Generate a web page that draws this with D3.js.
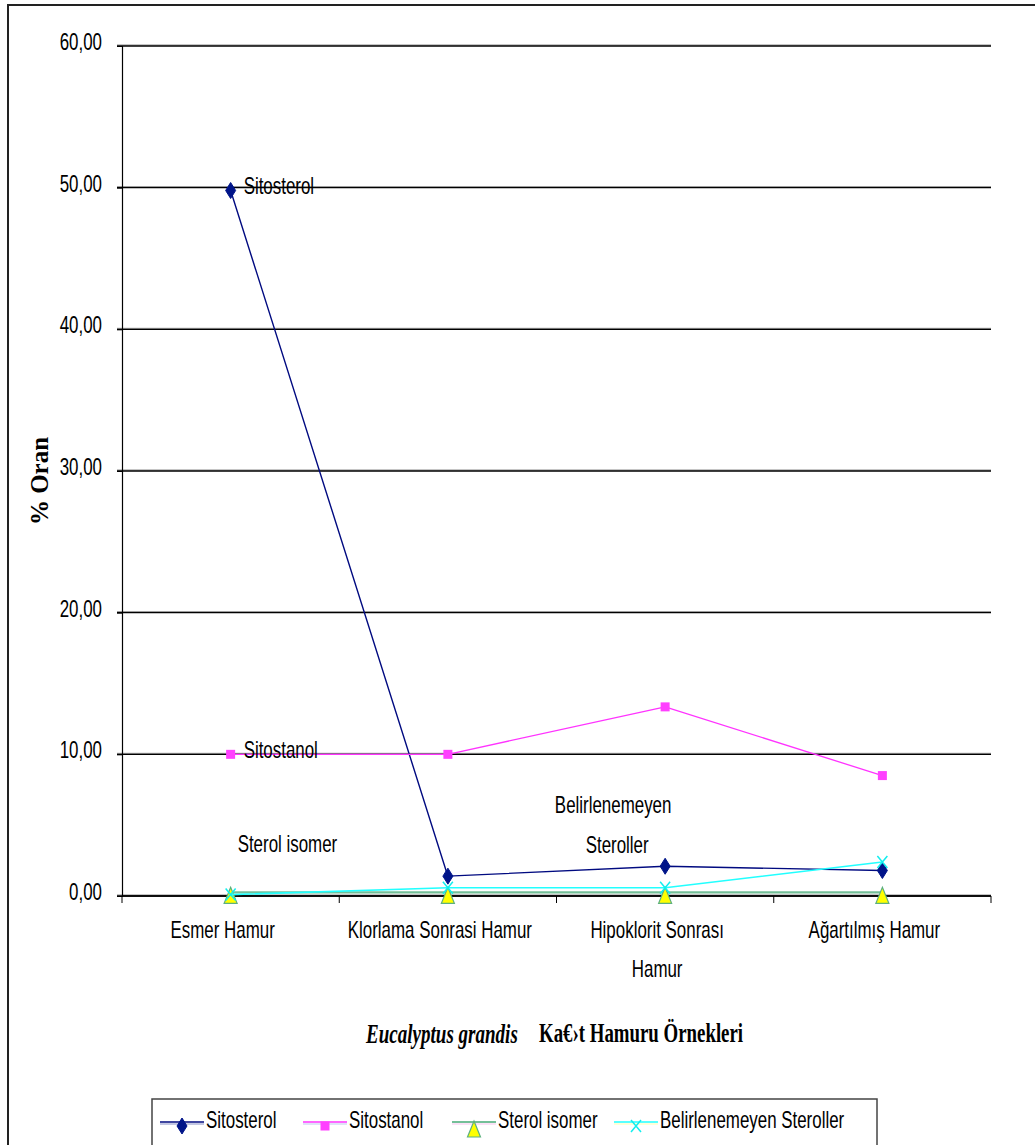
<!DOCTYPE html>
<html>
<head>
<meta charset="utf-8">
<script src="https://cdn.jsdelivr.net/npm/d3@7"></script>
<style>
  html, body { margin: 0; padding: 0; background: #fff; }
  svg { display: block; }
</style>
</head>
<body>
<svg id="chart" width="1035" height="1145"></svg>
<script>
// Sample groups along the x axis
const categories = ["Esmer Hamur", "Klorlama Sonrasi Hamur", "Hipoklorit Sonrası Hamur", "Ağartılmış Hamur"];
const categoryLines = [["Esmer Hamur"], ["Klorlama Sonrasi Hamur"], ["Hipoklorit Sonrası", "Hamur"], ["Ağartılmış Hamur"]];

// Sterol shares (%) per sample
const sitosterol = [49.8, 1.4, 2.1, 1.8];
const sitostanol = [10.0, 10.0, 13.35, 8.5];
const sterolIsomer = [0.26, 0.26, 0.26, 0.26];
const belirlenemeyen = [0.1, 0.58, 0.58, 2.4];

const yTicks = [0, 10, 20, 30, 40, 50, 60];
const seriesNames = ["Sitosterol", "Sitostanol", "Sterol isomer", "Belirlenemeyen Steroller"];

const SANS = "'Liberation Sans', Arial, sans-serif";
const SERIF = "'Liberation Serif', 'Times New Roman', serif";
const SX = 0.705; // narrow rendering of the sans labels

const svg = d3.select("#chart");

// outer frame
svg.append("rect").attr("x", 8).attr("y", 5).attr("width", 1100).attr("height", 1200)
  .attr("fill", "none").attr("stroke", "#222").attr("stroke-width", 2);

const plot = { left: 122, right: 991, top: 46, bottom: 896 };

const x = d3.scaleBand().domain(categories).range([plot.left, plot.right]);
const y = d3.scaleLinear().domain([0, 60]).range([plot.bottom, plot.top]);
const cx = c => x(c) + x.bandwidth() / 2;

function label(parent, px, py, str, o = {}) {
  const g = parent.append("g").attr("transform", `translate(${px},${py}) scale(${o.sx ?? SX},1)`);
  return g.append("text")
    .attr("text-anchor", o.anchor || "start")
    .attr("font-family", o.family || SANS)
    .attr("font-size", o.size || 24)
    .attr("font-weight", o.weight || "normal")
    .attr("font-style", o.style || "normal")
    .attr("fill", "#000")
    .text(str);
}

// horizontal gridlines
const grid = svg.append("g");
yTicks.forEach(t => {
  grid.append("line").attr("x1", plot.left - 5).attr("x2", plot.right)
    .attr("y1", y(t) - 1).attr("y2", y(t) - 1).attr("stroke", "#8a8a8a").attr("stroke-width", 1);
  grid.append("line").attr("x1", plot.left - 5).attr("x2", plot.right)
    .attr("y1", y(t)).attr("y2", y(t)).attr("stroke", "#000").attr("stroke-width", 1.4);
});

// y axis
const yAxis = d3.axisLeft(y).tickValues(yTicks).tickSize(5).tickFormat("");
svg.append("g").attr("transform", `translate(${plot.left},0)`).call(yAxis)
  .call(g => g.select(".domain").attr("stroke", "#000").attr("stroke-width", 1.2))
  .call(g => g.selectAll(".tick line").attr("stroke", "#000"));
const fmt = v => d3.format(".2f")(v).replace(".", ",");
yTicks.forEach(t => label(svg, plot.left - 20, y(t) + 4, fmt(t), { anchor: "end" }));

// x axis
const boundaries = categories.map(c => x(c)).concat([plot.right]);
const xAxisG = svg.append("g");
xAxisG.append("line").attr("x1", plot.left).attr("x2", plot.right)
  .attr("y1", plot.bottom).attr("y2", plot.bottom).attr("stroke", "#000").attr("stroke-width", 1.5);
boundaries.forEach(b => xAxisG.append("line").attr("x1", b).attr("x2", b)
  .attr("y1", plot.bottom).attr("y2", plot.bottom + 7).attr("stroke", "#000").attr("stroke-width", 1));
categories.forEach((c, i) => {
  categoryLines[i].forEach((ln, j) => label(svg, cx(c) - 8, plot.bottom + 42 + j * 39, ln, { anchor: "middle" }));
});

// axis titles
const yt = svg.append("g").attr("transform", `translate(48,481) rotate(-90)`);
yt.append("text").attr("text-anchor", "middle").attr("font-family", SERIF)
  .attr("font-size", 25).attr("font-weight", "bold").text("% Oran");
label(svg, 366, 1043, "Eucalyptus grandis", { family: SERIF, size: 28, weight: "bold", style: "italic", sx: 0.68 });
label(svg, 539, 1042, "Ka€›t Hamuru Örnekleri", { family: SERIF, size: 28, weight: "bold", sx: 0.673 });

// marker shapes
const markers = {
  diamond: (g, color) => g.append("path").attr("d", "M0,-8 L5,0 L0,8 L-5,0 Z").attr("fill", color).attr("stroke", color),
  square: (g, color) => g.append("rect").attr("x", -4.5).attr("y", -4.5).attr("width", 9).attr("height", 9).attr("fill", color),
  triangle: (g, color, stroke) => g.append("path").attr("d", "M0,-5 L6.5,11 L-6.5,11 Z").attr("fill", color).attr("stroke", stroke).attr("stroke-width", 1.2),
  cross: (g, color) => g.append("path").attr("d", "M-5,-6 L5,6 M5,-6 L-5,6").attr("fill", "none").attr("stroke", color).attr("stroke-width", 1.5)
};

const series = [
  { name: seriesNames[0], values: sitosterol, line: "#000a80", width: 1.4, marker: "diamond", fill: "#001489", shadow: "#8890c8" },
  { name: seriesNames[1], values: sitostanol, line: "#ff33ff", width: 1.3, marker: "square", fill: "#ff40ff", shadow: "#c0c8f0" },
  { name: seriesNames[2], values: sterolIsomer, line: "#74bf98", width: 2.2, marker: "triangle", fill: "#ffff00", stroke: "#5cb080", shadow: "#f7c4f0" },
  { name: seriesNames[3], values: belirlenemeyen, line: "#22ffff", width: 1.6, marker: "cross", fill: "#11eeee", shadow: "#ffffb0" }
];

const lineGen = d3.line().x((d, i) => cx(categories[i])).y(d => y(d));

series.forEach(s => {
  const g = svg.append("g");
  g.append("path").datum(s.values).attr("d", lineGen).attr("fill", "none")
    .attr("stroke", s.line).attr("stroke-width", s.width).attr("stroke-linejoin", "round");
  s.values.forEach((v, i) => {
    const m = g.append("g").attr("transform", `translate(${cx(categories[i])},${y(v)})`);
    markers[s.marker](m, s.fill, s.stroke);
  });
});

// point annotations
label(svg, cx(categories[0]) + 13, y(sitosterol[0]) + 3, "Sitosterol");
label(svg, cx(categories[0]) + 13, y(sitostanol[0]) + 4, "Sitostanol");
label(svg, cx(categories[0]) + 7, y(sterolIsomer[0]) - 40, "Sterol isomer");
label(svg, cx(categories[2]) - 52, y(belirlenemeyen[2]) - 75, "Belirlenemeyen", { anchor: "middle" });
label(svg, cx(categories[2]) - 48, y(belirlenemeyen[2]) - 35, "Steroller", { anchor: "middle" });

// legend
const legend = svg.append("g");
legend.append("rect").attr("x", 152).attr("y", 1099).attr("width", 725).attr("height", 80)
  .attr("fill", "#fff").attr("stroke", "#444").attr("stroke-width", 1.5);
const legendX = [160, 303, 452, 614];
series.forEach((s, i) => {
  const lx = legendX[i], ly = 1122;
  legend.append("line").attr("x1", lx).attr("x2", lx + 44).attr("y1", ly + 2).attr("y2", ly + 2)
    .attr("stroke", s.shadow).attr("stroke-width", 1.2);
  legend.append("line").attr("x1", lx).attr("x2", lx + 44).attr("y1", ly).attr("y2", ly)
    .attr("stroke", s.line).attr("stroke-width", s.width);
  const m = legend.append("g").attr("transform", `translate(${lx + 22},${ly + 4})`);
  markers[s.marker](m, s.fill, s.stroke);
  label(legend, lx + 46, ly + 6, s.name);
});
</script>
</body>
</html>
